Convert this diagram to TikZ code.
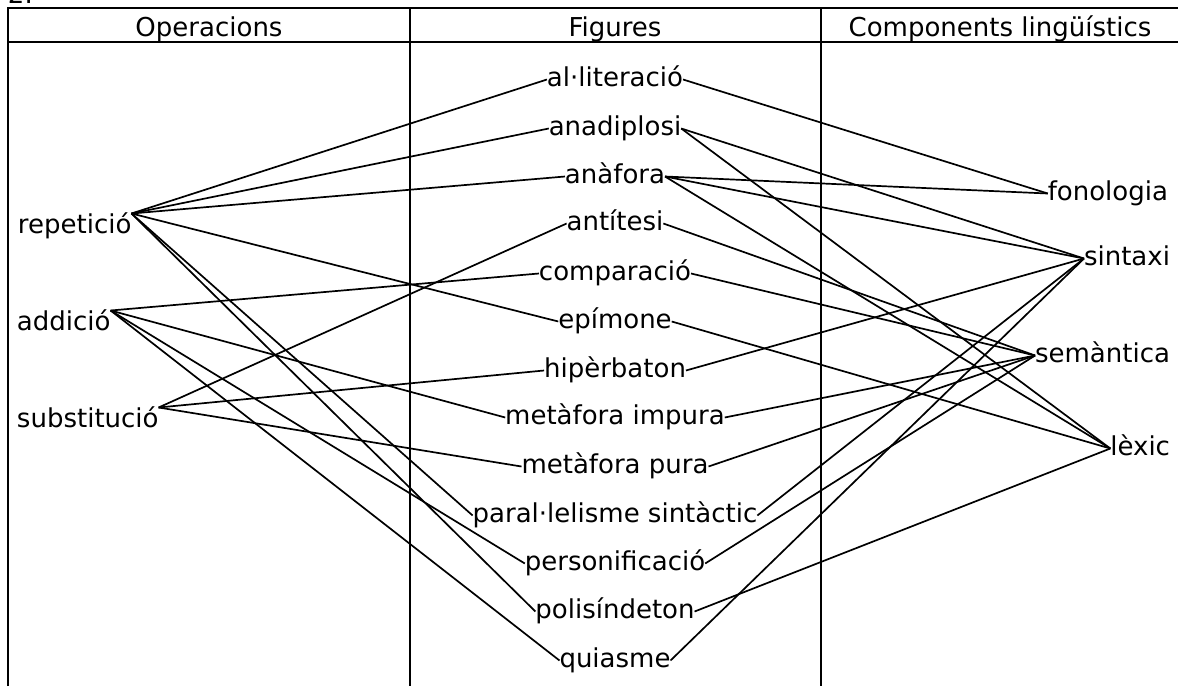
\documentclass[tikz,border=0pt]{standalone}
\usepackage{fontspec}
\setmainfont{DejaVu Sans}

\begin{document}
\begin{tikzpicture}[
        x=0.5pt,
        y=-0.5pt,
        every node/.style={font=\fontsize{13}{15}\selectfont, inner sep=0pt, outer sep=0pt, text height=9.75pt, text depth=3.25pt},
        grid/.style={line width=1pt},
        link/.style={line width=0.85pt},
        fig/.style={anchor=base}
    ]
    \useasboundingbox (0,0) rectangle (1178,686);

    \draw[grid] (8,686) -- (8,8) -- (1178,8);
    \draw[grid] (8,42) -- (1178,42);
    \draw[grid] (410,8) -- (410,686);
    \draw[grid] (821,8) -- (821,686);

    \node[anchor=base west] (num) at (8,3) {2.};
    \node[fig] (h1) at (209,36) {Operacions};
    \node[fig] (h2) at (615,36) {Figures};
    \node[fig] (h3) at (1000,36) {Components lingüístics};

    \node[anchor=base west] (rep) at (18,233) {repetició};
    \node[anchor=base west] (add) at (17,330) {addició};
    \node[anchor=base west] (sub) at (17,427) {substitució};

    \node[fig] (alit) at (615,86) {al·literació};
    \node[fig] (anad) at (615,135) {anadiplosi};
    \node[fig] (anaf) at (615,183) {anàfora};
    \node[fig] (antit) at (615,230) {antítesi};
    \node[fig] (comp) at (615,280) {comparació};
    \node[fig] (epim) at (615,328) {epímone};
    \node[fig] (hiper) at (615,377) {hipèrbaton};
    \node[fig] (metimp) at (615,424) {metàfora impura};
    \node[fig] (metpur) at (615,473) {metàfora pura};
    \node[fig] (paral) at (615,522) {paral·lelisme sintàctic};
    \node[fig] (pers) at (615,570) {personificació};
    \node[fig] (polis) at (615,618) {polisíndeton};
    \node[fig] (quia) at (615,667) {quiasme};

    \node[anchor=base east] (fon) at (1168,200) {fonologia};
    \node[anchor=base east] (sin) at (1170,265) {sintaxi};
    \node[anchor=base east] (sem) at (1170,362) {semàntica};
    \node[anchor=base east] (lex) at (1170,455) {lèxic};

    \draw[link] (rep.north east) edge (alit.west) edge (anad.west) edge (anaf.west)
        edge (epim.west) edge (paral.west) edge (polis.west);
    \draw[link] (add.north east) edge (comp.west) edge (metimp.west) edge (pers.west)
        edge (quia.west);
    \draw[link] (sub.north east) edge (antit.west) edge (hiper.west) edge (metpur.west);

    \draw[link] (alit.east) edge (fon.west);
    \draw[link] (anad.east) edge (sin.west) edge (lex.west);
    \draw[link] (anaf.east) edge (fon.west) edge (sin.west) edge (lex.west);
    \draw[link] (antit.east) edge (sem.west);
    \draw[link] (comp.east) edge (sem.west);
    \draw[link] (epim.east) edge (lex.west);
    \draw[link] (hiper.east) edge (sin.west);
    \draw[link] (metimp.east) edge (sem.west);
    \draw[link] (metpur.east) edge (sem.west);
    \draw[link] (paral.east) edge (sin.west);
    \draw[link] (pers.east) edge (sem.west);
    \draw[link] (polis.east) edge (lex.west);
    \draw[link] (quia.east) edge (sin.west);
\end{tikzpicture}
\end{document}
